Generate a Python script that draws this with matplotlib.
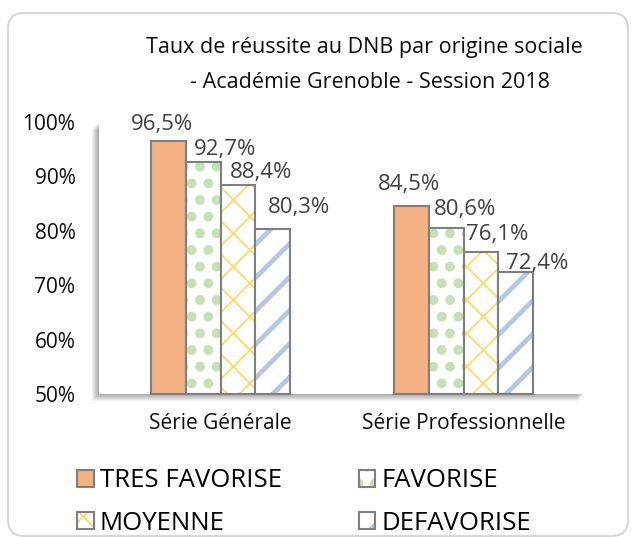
import matplotlib
matplotlib.use('Agg')
import matplotlib.pyplot as plt
from matplotlib.patches import Patch, FancyBboxPatch, Rectangle
from matplotlib.transforms import IdentityTransform
from matplotlib.legend_handler import HandlerTuple
import numpy as np

plt.rcParams['font.family'] = ['Open Sans', 'DejaVu Sans']

# ---------------- data ----------------
categories = ['Série Générale', 'Série Professionnelle']
series_names = ['TRES FAVORISE', 'FAVORISE', 'MOYENNE', 'DEFAVORISE']
tres_favorise = [96.5, 84.5]
favorise = [92.7, 80.6]
moyenne = [88.4, 76.1]
defavorise = [80.3, 72.4]
ytick_values = [50, 60, 70, 80, 90, 100]
title_line1 = "Taux de réussite au DNB par origine sociale"
title_line2 = "- Académie Grenoble - Session 2018"

series_values = [tres_favorise, favorise, moyenne, defavorise]

# ---------------- styles ----------------
W, H = 634, 537
fig = plt.figure(figsize=(W / 100, H / 100), dpi=100)
fig.patch.set_facecolor('white')

face_colors = ['#F4B183', 'white', 'white', 'white']
hatches = [None, '.', 'x', '/']
hatch_colors = [None, '#C5E0B4', '#FFD966', '#B4C7E7']
hatch_lw_map = {'.': 4.6, 'x': 1.3, '/': 3.4}
edge_gray = '#7F7F7F'
# label offsets (pixels: dx right, dy up) relative to bar top centre
label_dx = [[-6, -2.5], [22, 19.5], [23.5, 16.5], [26.5, 21]]
label_dy = [[16.5, 22], [12.5, 18], [12.5, 18], [21.5, 8.5]]


def set_hatch_lw(patch, lw):
    """Per-artist hatch line width, working whether it is read at init or draw time."""
    if hasattr(patch, 'set_hatch_linewidth'):
        patch.set_hatch_linewidth(lw)
    if getattr(patch, '_hlw_wrapped', False):
        return
    orig = patch.draw

    def draw(renderer, _orig=orig, _lw=lw):
        with plt.rc_context({'hatch.linewidth': _lw}):
            _orig(renderer)
    patch.draw = draw
    patch._hlw_wrapped = True


# outer rounded frame
frame = FancyBboxPatch((8, 1), 620, 523,
                       boxstyle='round,pad=0,rounding_size=16',
                       transform=IdentityTransform(),
                       facecolor='white', edgecolor='#D0D0D0', lw=1.2, zorder=-5)
fig.add_artist(frame)

# plot area
ax_l, ax_r, ax_t, ax_b = 99, 585, 122, 394
ax = fig.add_axes([ax_l / W, 1 - ax_b / H, (ax_r - ax_l) / W, (ax_b - ax_t) / H])
ax.set_facecolor('white')

# shadow of the plot area
for d in range(1, 8):
    fig.add_artist(Rectangle((ax_l - d, (H - ax_b) - d), ax_r - ax_l, ax_b - ax_t,
                             transform=IdentityTransform(), facecolor='black',
                             edgecolor='none', alpha=0.05, zorder=-1))

x = np.arange(len(categories))
w = 0.144
base = ytick_values[0]
legend_handles = []
for i, vals in enumerate(series_values):
    pos = x + (i - 1.5) * w
    vals = np.array(vals)
    if hatches[i] is None:
        ax.bar(pos, vals - base, w, bottom=base, color=face_colors[i],
               edgecolor='none', linewidth=0)
        lh_fill = Patch(facecolor=face_colors[i], edgecolor='none', linewidth=0)
    else:
        lw = hatch_lw_map[hatches[i]]
        with plt.rc_context({'hatch.linewidth': lw}):
            fill = ax.bar(pos, vals - base, w, bottom=base, color=face_colors[i],
                          edgecolor=hatch_colors[i], linewidth=0, hatch=hatches[i])
            lh_fill = Patch(facecolor=face_colors[i], edgecolor=hatch_colors[i],
                            linewidth=0, hatch=hatches[i])
        for p in list(fill) + [lh_fill]:
            set_hatch_lw(p, lw)
    ax.bar(pos, vals - base, w, bottom=base, facecolor='none',
           edgecolor=edge_gray, linewidth=1.5, clip_on=False)
    lh_edge = Patch(facecolor='none', edgecolor=edge_gray, linewidth=1.5)
    legend_handles.append((lh_fill, lh_edge))
    for j, v in enumerate(vals):
        ax.annotate(f"{v:.1f}%".replace('.', ','), (pos[j], v),
                    xytext=(label_dx[i][j] * 0.72, label_dy[i][j] * 0.72),
                    textcoords='offset points', ha='center', va='center',
                    fontsize=16, color='#404040')

ax.set_xlim(-0.5, len(categories) - 0.5)
ax.set_ylim(ytick_values[0], ytick_values[-1])
ax.set_yticks(ytick_values)
ax.set_yticklabels([f"{v}%" for v in ytick_values])
ax.set_xticks(x)
ax.set_xticklabels(categories)
ax.tick_params(axis='y', length=0, pad=17, labelsize=15, labelcolor='#0D0D0D')
ax.tick_params(axis='x', length=0, pad=14, labelsize=15, labelcolor='#0D0D0D')
for s in ax.spines.values():
    s.set_visible(False)

# title
fig.text(364 / W, 1 - 47 / H, title_line1, ha='center', va='center',
         fontsize=15.5, color='#0D0D0D')
fig.text(370 / W, 1 - 82 / H, title_line2, ha='center', va='center',
         fontsize=15.5, color='#0D0D0D')

# legend (column-wise fill: col1 = TRES, MOYENNE; col2 = FAVORISE, DEFAVORISE)
order = [0, 2, 1, 3]
leg = fig.legend([legend_handles[k] for k in order], [series_names[k] for k in order],
                 handler_map={tuple: HandlerTuple(ndivide=1, pad=0)},
                 ncol=2, loc='center', bbox_to_anchor=(304 / W, 1 - 502 / H),
                 frameon=False, fontsize=18.5, handlelength=0.65, handleheight=0.65,
                 handletextpad=0.23, columnspacing=3.0, labelspacing=0.68,
                 borderpad=0)

for p in fig.findobj(lambda a: isinstance(a, matplotlib.patches.Patch)):
    h = p.get_hatch()
    if h in hatch_lw_map:
        set_hatch_lw(p, hatch_lw_map[h])

fig.savefig('out.png', dpi=100, facecolor='white')
